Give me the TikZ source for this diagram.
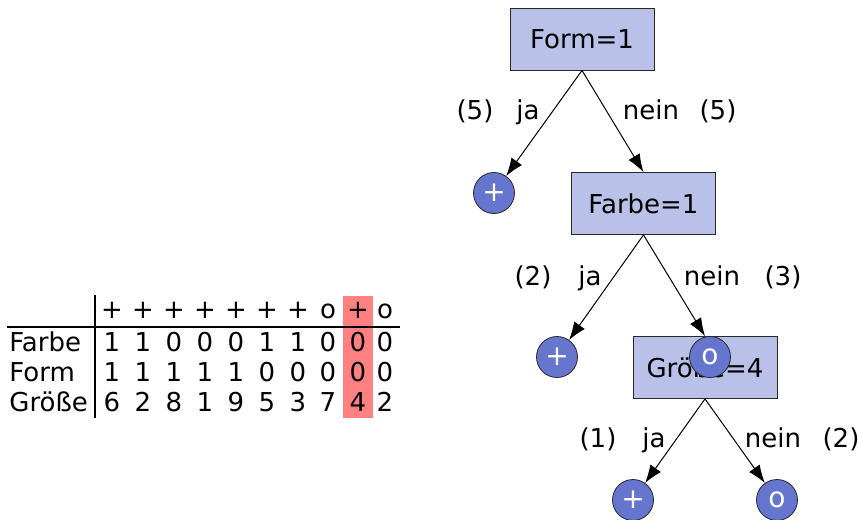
\documentclass[tikz,border=0pt]{standalone}
\usepackage{fontspec}
\setmainfont{DejaVu Sans}
\usetikzlibrary{arrows.meta}
\definecolor{boxblue}{RGB}{185,193,232}
\definecolor{leafblue}{RGB}{102,118,206}
\definecolor{hilite}{RGB}{255,128,128}
\definecolor{rand}{RGB}{40,40,40}

\begin{document}
\begin{tikzpicture}[x=0.5pt, y=-0.5pt,
		font=\fontsize{13}{15.5}\selectfont,
		test/.style={draw=rand, fill=boxblue, minimum width=72pt, minimum height=31pt, inner sep=0pt},
		leaf/.style={circle, draw=rand, fill=leafblue, text=white, minimum size=20.5pt, inner sep=0pt,
			font=\fontsize{14}{16}\selectfont},
		edge/.style={-{Latex[length=9pt,width=6.5pt]}, line width=0.5pt}]
		\useasboundingbox (0,0) rectangle (859,520);

		% Tabelle
		\fill[hilite] (343,296) rectangle (373,418);
		\draw[line width=0.65pt] (95,295) -- (95,418);
		\draw[line width=1.3pt] (7,327) -- (400,327);
		\node[anchor=base west, inner sep=0pt] (lfarbe) at (9,351.7) {Farbe};
		\node[anchor=base west, inner sep=0pt] (lform) at (9,381.7) {Form};
		\node[anchor=base west, inner sep=0pt] (lgroesse) at (9,411.7) {Größe};
		\foreach \x/\c/\a/\b/\g [count=\k] in {112/+/1/1/6, 143/+/1/1/2, 174/+/0/1/8, 205/+/0/1/1, 236/+/0/1/9,
				267/+/1/0/5, 298/+/1/0/3, 328/o/0/0/7, 358/+/0/0/4, 385/o/0/0/2} {
			\node[anchor=base] (k\k) at (\x,318.3) {\c};
			\node[anchor=base] (f\k) at (\x,351.7) {\a};
			\node[anchor=base] (r\k) at (\x,381.7) {\b};
			\node[anchor=base] (g\k) at (\x,411.7) {\g};
		}

		% Baum
		\node[test] (form) at (582,39) {Form=1};
		\node[test] (farbe) at (643.5,203.5) {Farbe=1};
		\node[test] (groesse) at (705,367.5) {Größe=4};
		\node[leaf] (l1) at (494,193) {+};
		\node[leaf] (l2) at (557,357) {+};
		\node[leaf] (l4) at (633,500) {+};
		\node[leaf] (l5) at (777,500) {o};

		\draw[edge] (form.south) -- (l1);
		\draw[edge] (form.south) -- (farbe.north);
		\draw[edge] (farbe.south) -- (l2);
		\draw[edge] (farbe.south) -- (groesse.north);
		\draw[edge] (groesse.south) -- (l4);
		\draw[edge] (groesse.south) -- (l5);
		\node[leaf] (l3) at (710,357) {o};

		\node[anchor=base] (n1) at (475,119) {(5)};
		\node[anchor=base] (j1) at (528,119) {ja};
		\node[anchor=base] (e1) at (651,119) {nein};
		\node[anchor=base] (m1) at (718,119) {(5)};

		\node[anchor=base] (n2) at (533,285) {(2)};
		\node[anchor=base] (j2) at (590,285) {ja};
		\node[anchor=base] (e2) at (712,285) {nein};
		\node[anchor=base] (m2) at (783,285) {(3)};

		\node[anchor=base] (n3) at (598,447) {(1)};
		\node[anchor=base] (j3) at (654,447) {ja};
		\node[anchor=base] (e3) at (773,447) {nein};
		\node[anchor=base] (m3) at (841,447) {(2)};
\end{tikzpicture}
\end{document}
